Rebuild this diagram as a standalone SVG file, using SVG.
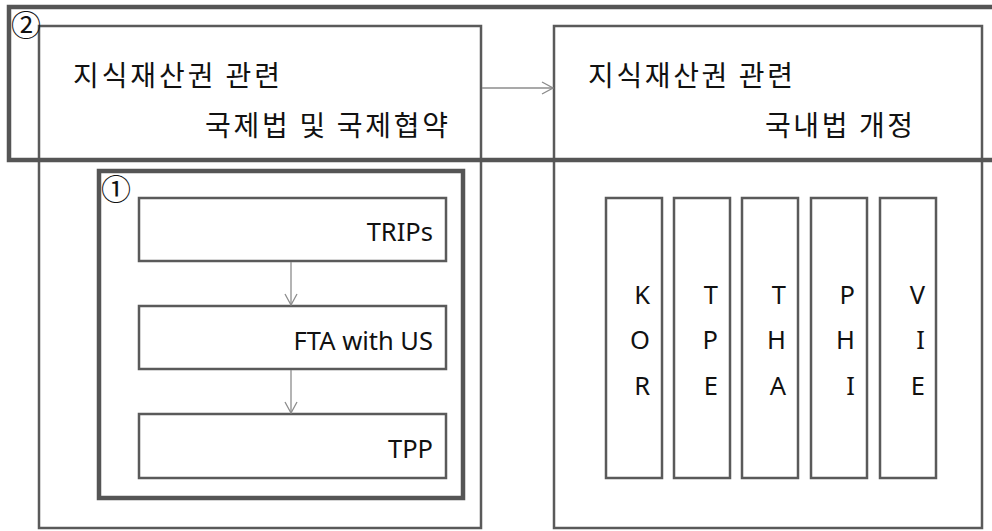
<svg xmlns="http://www.w3.org/2000/svg" width="992" height="531" viewBox="0 0 992 531">
<defs>
<style>
.box{fill:none;stroke:#5a5a5a;stroke-width:2.5}
.thick{fill:none;stroke:#555;stroke-width:4.5}
.conn{fill:none;stroke:#8c8c8c;stroke-width:1.3}
.ko{font-family:"Noto Sans CJK KR","Noto Sans",sans-serif;font-size:28px;fill:#111}
.en{font-family:"Noto Sans","Noto Sans CJK KR",sans-serif;font-size:25.5px;fill:#111;text-anchor:end}
.num{font-family:"Noto Sans CJK KR",sans-serif;font-size:30px;fill:#111}
</style>
<marker id="arr" markerUnits="userSpaceOnUse" markerWidth="14" markerHeight="14" viewBox="0 0 14 14" refX="13" refY="7" orient="auto">
<path d="M2,1 L13,7 L2,13" fill="none" stroke="#8c8c8c" stroke-width="1.3"/>
</marker>
</defs>
<rect width="992" height="531" fill="#fff"/>

<g id="left-panel">
<rect class="box" x="39" y="26" width="442" height="502"/>
<text class="ko" x="73" y="86" textLength="207" lengthAdjust="spacing">지식재산권 관련</text>
<text class="ko" x="205" y="136" textLength="243" lengthAdjust="spacing">국제법 및 국제협약</text>
</g>

<g id="right-panel">
<rect class="box" x="554" y="26" width="428" height="502"/>
<text class="ko" x="588" y="86" textLength="205" lengthAdjust="spacing">지식재산권 관련</text>
<text class="ko" x="765" y="136" textLength="148" lengthAdjust="spacing">국내법 개정</text>
</g>

<g id="group2">
<rect class="thick" x="9" y="7" width="1000" height="153"/>
<text class="num" x="11" y="36">②</text>
</g>

<g id="group1">
<rect class="thick" x="99" y="171" width="364" height="327"/>
<text class="num" x="101" y="200">①</text>
</g>

<g id="trips">
<rect class="box" x="139" y="198" width="307" height="63"/>
<text class="en" x="433" y="241">TRIPs</text>
</g>
<g id="fta">
<rect class="box" x="139" y="306" width="307" height="63"/>
<text class="en" x="433" y="350">FTA with US</text>
</g>
<g id="tpp">
<rect class="box" x="139" y="414" width="307" height="64"/>
<text class="en" x="433" y="458">TPP</text>
</g>

<g id="kor">
<rect class="box" x="606" y="198" width="56" height="280"/>
<text class="en" x="650" y="304">K</text>
<text class="en" x="650" y="349">O</text>
<text class="en" x="650" y="395">R</text>
</g>
<g id="tpe">
<rect class="box" x="674" y="198" width="56" height="280"/>
<text class="en" x="718" y="304">T</text>
<text class="en" x="718" y="349">P</text>
<text class="en" x="718" y="395">E</text>
</g>
<g id="tha">
<rect class="box" x="742" y="198" width="56" height="280"/>
<text class="en" x="786" y="304">T</text>
<text class="en" x="786" y="349">H</text>
<text class="en" x="786" y="395">A</text>
</g>
<g id="phi">
<rect class="box" x="811" y="198" width="56" height="280"/>
<text class="en" x="855" y="304">P</text>
<text class="en" x="855" y="349">H</text>
<text class="en" x="855" y="395">I</text>
</g>
<g id="vie">
<rect class="box" x="880" y="198" width="56" height="280"/>
<text class="en" x="925" y="304">V</text>
<text class="en" x="925" y="349">I</text>
<text class="en" x="925" y="395">E</text>
</g>

<g id="connectors">
<line class="conn" x1="482" y1="88" x2="553" y2="88" marker-end="url(#arr)"/>
<line class="conn" x1="291" y1="262" x2="291" y2="305" marker-end="url(#arr)"/>
<line class="conn" x1="291" y1="370" x2="291" y2="413" marker-end="url(#arr)"/>
</g>
</svg>
